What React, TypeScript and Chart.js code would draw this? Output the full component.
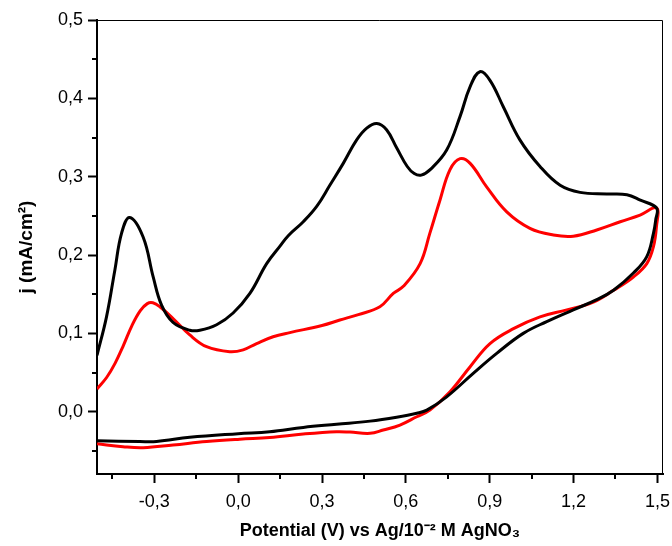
import React, { useEffect, useRef } from "react";
import { Chart, registerables } from "chart.js";

Chart.register(...registerables);

// Black CV loop: forward (upper) branch then reverse (lower) branch
const blackPotential = [
  -0.505, -0.471, -0.441, -0.417, -0.388, -0.340, -0.304, -0.274, -0.233, -0.173,
  -0.137, -0.077, -0.018, 0.042, 0.102, 0.149, 0.18, 0.233, 0.281, 0.328,
  0.376, 0.424, 0.460, 0.496, 0.531, 0.567, 0.605, 0.630, 0.655, 0.69, 0.746,
  0.794, 0.830, 0.865, 0.901, 0.949, 1.008, 1.080, 1.152, 1.223, 1.319,
  1.391, 1.439, 1.497,
  1.494, 1.486, 1.462, 1.414, 1.343, 1.283, 1.199, 1.104, 1.020, 0.925,
  0.841, 0.746, 0.675, 0.639, 0.567, 0.472, 0.352, 0.233, 0.113, 0.0,
  -0.173, -0.292, -0.352, -0.505,
];
const blackCurrent = [
  0.072, 0.121, 0.181, 0.228, 0.248, 0.223, 0.172, 0.136, 0.114, 0.104,
  0.104, 0.111, 0.126, 0.151, 0.189, 0.211, 0.225, 0.2425, 0.262, 0.289,
  0.317, 0.347, 0.362, 0.368, 0.360, 0.337, 0.313, 0.304, 0.302, 0.310, 0.334,
  0.377, 0.415, 0.434, 0.423, 0.389, 0.347, 0.313, 0.289, 0.280, 0.278,
  0.277, 0.270, 0.260,
  0.245, 0.228, 0.198, 0.177, 0.155, 0.143, 0.130, 0.115, 0.100, 0.0745,
  0.049, 0.019, 0.002, -0.002, -0.007, -0.012, -0.016, -0.020, -0.0255, -0.028,
  -0.0327, -0.038, -0.038, -0.037,
];

// Red CV loop: forward (upper) branch then reverse (lower) branch
const redPotential = [
  -0.505, -0.47, -0.44, -0.41, -0.38, -0.35, -0.325, -0.305, -0.280, -0.233, -0.173, -0.113,
  -0.030, 0.018, 0.066, 0.125, 0.185, 0.30, 0.364, 0.43, 0.507, 0.555,
  0.591, 0.651, 0.686, 0.722, 0.758, 0.794, 0.830, 0.889, 0.961, 1.044,
  1.128, 1.199, 1.283, 1.367, 1.438, 1.497,
  1.4965, 1.486, 1.462, 1.414, 1.343, 1.271, 1.176, 1.080, 0.985, 0.901,
  0.830, 0.758, 0.686, 0.639, 0.579, 0.519, 0.472, 0.400, 0.352, 0.233,
  0.113, 0.006, -0.113, -0.233, -0.340, -0.412, -0.505,
];
const redCurrent = [
  0.029, 0.044, 0.062, 0.085, 0.110, 0.129, 0.138, 0.139, 0.134, 0.119, 0.098, 0.083,
  0.0766, 0.079, 0.087, 0.0957, 0.101, 0.110, 0.117, 0.124, 0.134, 0.151,
  0.160, 0.189, 0.228, 0.270, 0.309, 0.323, 0.317, 0.287, 0.255, 0.234,
  0.2255, 0.224, 0.232, 0.2425, 0.251, 0.260,
  0.236, 0.211, 0.189, 0.172, 0.155, 0.140, 0.130, 0.121, 0.106, 0.087,
  0.0575, 0.0255, 0.002, -0.0064, -0.017, -0.0234, -0.0276, -0.026, -0.0255, -0.0285,
  -0.033, -0.035, -0.038, -0.0425, -0.046, -0.0447, -0.041,
];

const xMajorTicks = [-0.3, 0, 0.3, 0.6, 0.9, 1.2, 1.5];
const xMinorTicks = [-0.45, -0.15, 0.15, 0.45, 0.75, 1.05, 1.35];
const yMajorTicks = [0, 0.1, 0.2, 0.3, 0.4, 0.5];
const yMinorTicks = [-0.05, 0.05, 0.15, 0.25, 0.35, 0.45];

const xTitle = "Potential (V) vs Ag/10⁻² M AgNO₃";
const yTitle = "j (mA/cm²)";

const FONT = "'Liberation Sans', Arial, Helvetica, sans-serif";

const toPoints = (xs: number[], ys: number[]) => xs.map((x, i) => ({ x, y: ys[i] }));
const fmt = (v: number) => v.toFixed(1).replace(".", ",");

const framePlugin = {
  id: "frameAndMinorTicks",
  afterDraw(chart: any) {
    const { ctx, chartArea: a, scales } = chart;
    ctx.save();
    ctx.strokeStyle = "#000";
    ctx.lineWidth = 1;
    ctx.beginPath();
    ctx.moveTo(a.left, a.top + 0.5);
    ctx.lineTo(a.right - 0.5, a.top + 0.5);
    ctx.lineTo(a.right - 0.5, a.bottom);
    ctx.stroke();
    ctx.lineWidth = 2;
    ctx.beginPath();
    for (const v of xMinorTicks) {
      const px = Math.round(scales.x.getPixelForValue(v));
      ctx.moveTo(px, a.bottom);
      ctx.lineTo(px, a.bottom + 5);
    }
    for (const v of yMinorTicks) {
      const py = Math.round(scales.y.getPixelForValue(v));
      ctx.moveTo(a.left, py);
      ctx.lineTo(a.left - 5, py);
    }
    ctx.stroke();
    ctx.restore();
  },
};

export default function App() {
  const canvasRef = useRef<HTMLCanvasElement | null>(null);

  useEffect(() => {
    if (!canvasRef.current) return;
    const chart = new Chart(canvasRef.current, {
      type: "scatter",
      data: {
        datasets: [
          {
            label: "black",
            data: toPoints(blackPotential, blackCurrent),
            showLine: true,
            borderColor: "#000000",
            backgroundColor: "#000000",
            borderWidth: 3,
            pointRadius: 0,
            tension: 0.4,
            fill: false,
          },
          {
            label: "red",
            data: toPoints(redPotential, redCurrent),
            showLine: true,
            borderColor: "#ff0000",
            backgroundColor: "#ff0000",
            borderWidth: 3,
            pointRadius: 0,
            tension: 0.4,
            fill: false,
          },
        ],
      },
      options: {
        animation: false,
        responsive: false,
        devicePixelRatio: 1,
        layout: { padding: { top: 20, right: 9, left: 0, bottom: 0 } },
        plugins: { legend: { display: false }, tooltip: { enabled: false } },
        scales: {
          x: {
            type: "linear",
            min: -0.505,
            max: 1.52,
            afterBuildTicks: (scale: any) => {
              scale.ticks = xMajorTicks.map((value) => ({ value }));
            },
            afterFit: (scale: any) => {
              scale.height = 72;
              scale.paddingLeft = 0;
              scale.paddingRight = 0;
            },
            grid: {
              display: true,
              drawOnChartArea: false,
              drawTicks: true,
              tickLength: 9,
              tickWidth: 2,
              tickColor: "#000",
            },
            border: { display: true, color: "#000", width: 2 },
            ticks: {
              color: "#000",
              padding: 8,
              maxRotation: 0,
              font: { family: FONT, size: 18 },
              callback: (v: any) => fmt(Number(v)),
            },
            title: {
              display: true,
              text: xTitle,
              color: "#000",
              font: { family: FONT, size: 18, weight: "bold" },
              padding: { top: 0, bottom: 4 },
            },
          },
          y: {
            type: "linear",
            min: -0.0795,
            max: 0.5,
            afterBuildTicks: (scale: any) => {
              scale.ticks = yMajorTicks.map((value) => ({ value }));
            },
            afterFit: (scale: any) => {
              scale.width = 97;
              scale.paddingTop = 0;
              scale.paddingBottom = 0;
            },
            grid: {
              display: true,
              drawOnChartArea: false,
              drawTicks: true,
              tickLength: 9,
              tickWidth: 2,
              tickColor: "#000",
            },
            border: { display: true, color: "#000", width: 2 },
            ticks: {
              color: "#000",
              padding: 5,
              font: { family: FONT, size: 18 },
              callback: (v: any) => fmt(Number(v)),
            },
            title: {
              display: true,
              text: yTitle,
              color: "#000",
              font: { family: FONT, size: 19, weight: "bold" },
              padding: { top: 15, bottom: 0 },
            },
          },
        },
      },
      plugins: [framePlugin],
    });
    return () => chart.destroy();
  }, []);

  return (
    <div style={{ position: "fixed", left: 0, top: 0, width: 672, height: 546, background: "#fff" }}>
      <canvas ref={canvasRef} width={672} height={546} style={{ display: "block" }} />
    </div>
  );
}
